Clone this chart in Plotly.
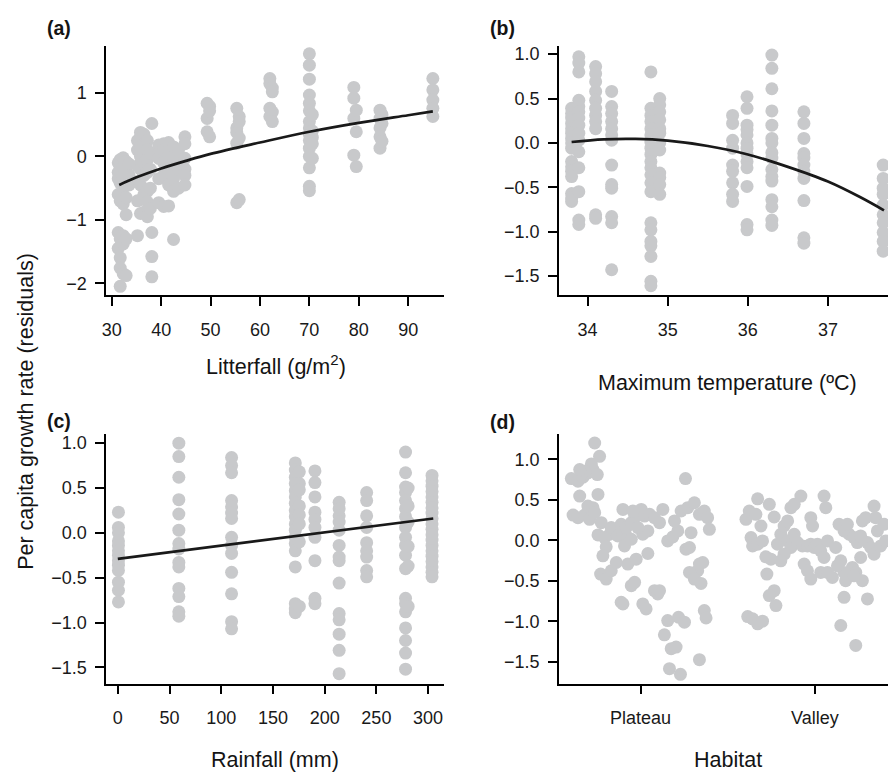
import plotly.graph_objects as go

# ---------------- data ----------------
# (a) Litterfall (g/m2) vs residual growth
litter_cols = [31.3, 31.7, 32.3, 32.9, 33.5, 35.2, 35.8, 36.5, 37.2, 37.8, 38.1,
               39.5, 40.5, 41.5, 42.5, 43.5, 44.8, 49.3, 49.8, 55.3, 55.8,
               62.0, 62.5, 70.0, 70.6, 79.0, 79.5, 84.3, 84.7, 95.0]
litter_vals = [
    [-0.1, -0.25, -0.35, -0.6, -1.2, -1.45],
    [-0.05, -0.13, -0.24, -0.42, -0.7, -1.3, -1.6, -1.76, -2.05],
    [-0.02, -0.18, -0.3, -0.5, -0.75, -1.25, -1.38, -1.85],
    [-0.08, -0.22, -0.65, -0.92, -1.3, -1.88],
    [-0.12, -0.3, -0.45],
    [0.25, 0.1, -0.15, -0.4, -0.7, -1.25],
    [0.38, 0.3, 0.15, 0.0, -0.2, -0.45, -0.9],
    [0.35, 0.2, 0.05, -0.1, -0.3, -0.6, -0.88],
    [0.25, 0.1, -0.05, -0.25, -0.55, -0.72, -0.95],
    [0.05, -0.2, -0.5, -0.82],
    [0.52, -1.2, -1.58, -1.9],
    [0.18, 0.05, -0.03, -0.35, -0.73],
    [0.2, 0.1, -0.1, -0.3, -0.79],
    [0.22, 0.0, -0.2, -0.45, -0.78],
    [0.15, -0.05, -0.35, -0.55, -1.31],
    [0.1, -0.2, -0.5],
    [0.31, 0.2, -0.03, -0.2, -0.3, -0.45],
    [0.84, 0.6, 0.39],
    [0.79, 0.72, 0.31],
    [0.76, 0.45, 0.38, 0.21, -0.73],
    [0.63, 0.55, 0.29, -0.68],
    [1.23, 1.15, 0.76, 0.63],
    [1.08, 1.02, 0.7, 0.55],
    [1.62, 1.44, 1.22, 0.97, 0.84, 0.72, 0.55, 0.45, 0.35, 0.25, 0.13, 0.0, -0.18, -0.47, -0.54],
    [0.66, 0.4, 0.3, 0.2, -0.03],
    [1.09, 0.92, 0.6, 0.02],
    [0.73, 0.39, -0.16],
    [0.73, 0.6, 0.45, 0.31, 0.13],
    [0.66, 0.52, 0.24],
    [1.23, 1.05, 0.89, 0.76, 0.63],
]
litter_fit_x = [31.5, 35, 40, 45, 50, 60, 70, 80, 90, 95]
litter_fit_y = [-0.45, -0.33, -0.19, -0.07, 0.04, 0.22, 0.39, 0.53, 0.65, 0.71]

# (b) Maximum temperature
temp_cols = [33.80, 33.89, 34.10, 34.30, 34.79, 34.90, 35.81, 35.99, 36.30, 36.70, 37.69]
temp_vals = [
    [0.39, 0.33, 0.28, 0.22, 0.16, 0.11, 0.05, 0.0, -0.06, -0.21, -0.27, -0.32, -0.38, -0.57, -0.62, -0.66],
    [0.97, 0.9, 0.8, 0.48, 0.41, 0.35, 0.28, 0.2, 0.11, 0.03, -0.1, -0.28, -0.55, -0.87, -0.92],
    [0.86, 0.78, 0.69, 0.58, 0.48, 0.39, 0.31, 0.24, 0.16, -0.81, -0.85],
    [0.58, 0.41, 0.33, 0.24, 0.16, 0.09, 0.03, -0.25, -0.47, -0.51, -0.83, -0.9, -1.43],
    [0.8, 0.39, 0.31, 0.24, 0.16, 0.09, 0.01, -0.06, -0.13, -0.21, -0.28, -0.36, -0.45, -0.55,
     -0.9, -0.98, -1.11, -1.16, -1.28, -1.56, -1.61],
    [0.5, 0.43, 0.35, 0.26, 0.16, 0.11, 0.0, -0.08, -0.34, -0.39, -0.47, -0.58],
    [0.31, 0.22, 0.03, -0.06, -0.25, -0.32, -0.45, -0.58, -0.66],
    [0.52, 0.39, 0.2, 0.15, 0.09, 0.0, -0.06, -0.13, -0.21, -0.28, -0.49, -0.92, -0.98],
    [0.99, 0.84, 0.61, 0.36, 0.2, 0.05, 0.0, -0.11, -0.17, -0.3, -0.38, -0.43, -0.64, -0.72, -0.87, -0.93],
    [0.35, 0.22, 0.05, -0.12, -0.17, -0.25, -0.32, -0.4, -0.65, -1.07, -1.13],
    [-0.25, -0.4, -0.51, -0.58, -0.7, -0.81, -0.9, -1.01, -1.11, -1.22],
]
temp_fit_x = [33.8, 34.2, 34.6, 35.0, 35.5, 36.0, 36.5, 37.0, 37.4, 37.7]
temp_fit_y = [0.01, 0.04, 0.045, 0.025, -0.035, -0.13, -0.27, -0.435, -0.61, -0.76]

# (c) Rainfall (mm)
rain_cols = [0.6, 59, 110, 171.6, 175.5, 190.6, 214, 240.6, 278.2, 280.7, 303.8]
rain_vals = [
    [0.23, 0.06, 0.0, -0.09, -0.14, -0.2, -0.25, -0.31, -0.36, -0.42, -0.55, -0.64, -0.77],
    [1.0, 0.85, 0.62, 0.37, 0.21, 0.03, -0.12, -0.18, -0.33, -0.38, -0.62, -0.71, -0.88, -0.93],
    [0.84, 0.75, 0.67, 0.36, 0.29, 0.22, 0.16, -0.05, -0.14, -0.23, -0.44, -0.68, -0.99, -1.07],
    [0.78, 0.7, 0.62, 0.55, 0.47, 0.4, 0.33, 0.25, 0.18, 0.1, 0.03, -0.05, -0.12, -0.2, -0.38,
     -0.79, -0.85, -0.89],
    [0.68, 0.55, 0.48, 0.3, 0.2, 0.1, -0.1, -0.82],
    [0.69, 0.56, 0.4, 0.23, 0.15, 0.06, -0.05, -0.31, -0.73, -0.79],
    [0.34, 0.27, 0.19, 0.12, 0.03, -0.14, -0.27, -0.31, -0.56, -0.9, -0.97, -1.13, -1.31, -1.57],
    [0.45, 0.36, 0.19, 0.06, -0.11, -0.2, -0.27, -0.42, -0.49],
    [0.9, 0.67, 0.51, 0.45, 0.36, 0.27, 0.18, 0.06, -0.05, -0.14, -0.25, -0.4, -0.73, -0.79,
     -0.88, -1.06, -1.2, -1.34, -1.52],
    [0.5, 0.3, 0.12, -0.15, -0.37, -0.82],
    [0.64, 0.58, 0.52, 0.46, 0.4, 0.34, 0.28, 0.22, 0.16, 0.1, 0.04, -0.02, -0.08, -0.14, -0.2,
     -0.26, -0.32, -0.38, -0.44, -0.49],
]
rain_fit_x = [0, 305]
rain_fit_y = [-0.29, 0.16]

# (d) Habitat (jittered position: Plateau = 1, Valley = 2)
habitat_labels = ["Plateau", "Valley"]
plateau_x = [0.603, 0.641, 0.670, 0.698, 0.727, 0.737, 0.765, 0.718, 0.752, 0.679, 0.651,
             0.613, 0.641, 0.679, 0.708, 0.698, 0.727, 0.756, 0.651, 0.737, 0.775, 0.756,
             0.794, 0.823, 0.851, 0.803, 0.784, 0.832, 0.870, 0.899, 0.927, 0.908, 0.889,
             0.918, 0.947, 0.966, 0.994, 1.023, 1.004, 0.899, 0.956, 1.052, 1.080, 1.109,
             1.128, 1.042, 1.013, 0.985, 0.947, 0.927, 0.975, 1.042, 0.771, 0.803, 0.832,
             0.861, 0.889, 0.899, 0.947, 0.966, 1.013, 1.032, 1.080, 1.099, 1.109, 1.156,
             1.185, 1.214, 1.195, 1.233, 1.271, 1.309, 1.338, 1.366, 1.385, 1.395, 1.290,
             1.261, 1.281, 1.328, 1.338, 1.357, 1.281, 1.309, 1.347, 1.258, 1.137, 1.156,
             1.176, 1.204, 1.218, 1.252, 1.166, 1.229, 1.338, 1.366, 1.376]
plateau_y = [0.762, 0.730, 0.779, 0.832, 0.873, 1.201, 1.037, 0.943, 0.811, 0.852, 0.873,
             0.311, 0.279, 0.311, 0.258, 0.422, 0.402, 0.566, 0.545, 0.340, 0.217, 0.066,
             0.033, 0.074, 0.115, -0.082, -0.193, 0.156, 0.053, 0.074, 0.033, -0.070, 0.197,
             0.156, 0.217, 0.279, 0.320, 0.299, 0.381, 0.381, 0.361, 0.320, 0.279, 0.217,
             0.381, 0.115, 0.074, 0.156, 0.012, -0.295, -0.234, -0.164, -0.418, -0.480, -0.377,
             -0.275, -0.766, -0.787, -0.561, -0.520, -0.787, -0.848, -0.623, -0.664, -0.623, -0.008,
             0.041, 0.115, 0.238, 0.361, 0.402, 0.463, 0.320, 0.361, 0.279, 0.135, 0.094,
             -0.111, -0.090, -0.377, -0.295, -0.275, -0.398, -0.480, -0.533, 0.762, -1.168, -0.992,
             -1.340, -1.320, -0.951, -1.012, -1.586, -1.656, -1.475, -0.869, -0.959]
valley_x = [1.605, 1.624, 1.662, 1.672, 1.691, 1.634, 1.643, 1.672, 1.700, 1.739, 1.767,
            1.719, 1.748, 1.725, 1.767, 1.739, 1.777, 1.615, 1.643, 1.672, 1.700, 1.786,
            1.805, 1.824, 1.844, 1.863, 1.882, 1.920, 1.844, 1.863, 1.824, 1.805, 1.882,
            1.901, 1.929, 1.958, 1.977, 1.996, 2.015, 2.034, 2.053, 1.977, 1.987, 1.939,
            1.958, 1.977, 2.053, 2.063, 2.073, 2.034, 2.073, 2.101, 2.120, 2.139, 2.168,
            2.197, 2.187, 2.149, 2.168, 2.216, 2.235, 2.273, 2.225, 2.244, 2.263, 2.273,
            2.292, 2.302, 2.321, 2.340, 2.340, 2.349, 2.359, 2.378, 2.397, 2.406, 2.302,
            2.168, 2.149, 2.235, 2.130, 2.177, 2.225, 2.263]
valley_y = [0.258, 0.361, 0.320, 0.512, 0.176, 0.033, -0.070, -0.049, -0.008, 0.443, 0.287,
            -0.205, -0.234, -0.418, -0.623, -0.684, -0.807, -0.943, -0.971, -1.033, -1.000, -0.049,
            0.074, 0.176, 0.238, 0.402, 0.443, 0.545, -0.008, -0.090, -0.172, -0.254, 0.074,
            -0.029, -0.070, -0.070, -0.049, -0.090, -0.049, -0.131, -0.213, 0.279, 0.176, -0.295,
            -0.377, -0.480, 0.545, 0.402, -0.008, -0.398, -0.398, -0.459, -0.090, 0.197, 0.115,
            0.074, 0.197, -0.254, -0.398, -0.336, -0.398, -0.500, 0.033, -0.029, 0.053, 0.238,
            0.279, -0.029, -0.090, -0.172, 0.422, 0.279, 0.115, -0.070, 0.197, -0.008, -0.725,
            -0.705, -1.053, -1.299, -0.316, -0.500, -0.439, -0.213]


def flatten(cols, vals):
    xs, ys = [], []
    for c, v in zip(cols, vals):
        xs += [c] * len(v)
        ys += v
    return xs, ys


# ---------------- styling ----------------
W, H = 888, 773
FONT = "Liberation Sans, Arial, Helvetica, sans-serif"
PT_COLOR = "rgb(200,201,203)"
PT_SIZE = 13
LINE_COLOR = "rgb(25,25,25)"

fig = go.Figure()


def add_points(xs, ys, ax):
    fig.add_trace(go.Scatter(x=xs, y=ys, mode="markers", xaxis="x" + ax, yaxis="y" + ax,
                             marker=dict(color=PT_COLOR, size=PT_SIZE, line=dict(width=0)),
                             showlegend=False, hoverinfo="skip"))


def add_fit(xs, ys, ax):
    fig.add_trace(go.Scatter(x=xs, y=ys, mode="lines", xaxis="x" + ax, yaxis="y" + ax,
                             line=dict(color=LINE_COLOR, width=2.7, shape="spline", smoothing=1.0),
                             showlegend=False, hoverinfo="skip"))


ax_, ay_ = flatten(litter_cols, litter_vals)
add_points(ax_, ay_, "")
add_fit(litter_fit_x, litter_fit_y, "")
bx_, by_ = flatten(temp_cols, temp_vals)
add_points(bx_, by_, "2")
add_fit(temp_fit_x, temp_fit_y, "2")
cx_, cy_ = flatten(rain_cols, rain_vals)
add_points(cx_, cy_, "3")
add_fit(rain_fit_x, rain_fit_y, "3")
add_points(plateau_x + valley_x, plateau_y + valley_y, "4")

TICK_FONT = dict(family=FONT, size=18, color="rgb(25,25,25)")
common = dict(showline=True, linecolor="black", linewidth=1.5, ticks="outside",
              ticklen=9, tickwidth=1.5, tickcolor="black", showgrid=False, zeroline=False,
              tickfont=TICK_FONT, fixedrange=True)
xcommon = dict(common, ticklabelstandoff=8)
ycommon = dict(common, ticklabelstandoff=5)

xdom_l = [102.7 / W, 441.7 / W]
xdom_r = [557.3 / W, 1.0]
ydom_t = [1 - 294 / H, 1 - 44.3 / H]
ydom_b = [1 - 683.3 / H, 1 - 433.3 / H]

fig.update_layout(
    width=W, height=H, margin=dict(l=0, r=0, t=0, b=0),
    paper_bgcolor="white", plot_bgcolor="white", showlegend=False,
    font=dict(family=FONT, color="rgb(25,25,25)"),
    xaxis=dict(xcommon, domain=xdom_l, range=[28.87, 97.2], tickvals=[30, 40, 50, 60, 70, 80, 90], anchor="y"),
    yaxis=dict(ycommon, domain=ydom_t, range=[-2.19, 1.74], tickvals=[-2, -1, 0, 1], anchor="x"),
    xaxis2=dict(xcommon, domain=xdom_r, range=[33.64, 37.75], tickvals=[34, 35, 36, 37], anchor="y2"),
    yaxis2=dict(ycommon, domain=ydom_t, range=[-1.717, 1.09], tickvals=[-1.5, -1, -0.5, 0, 0.5, 1],
                tickformat=".1f", anchor="x2"),
    xaxis3=dict(xcommon, domain=xdom_l, range=[-11.2, 315.1], tickvals=[0, 50, 100, 150, 200, 250, 300], anchor="y3"),
    yaxis3=dict(ycommon, domain=ydom_b, range=[-1.68, 1.1], tickvals=[-1.5, -1, -0.5, 0, 0.5, 1],
                tickformat=".1f", anchor="x3"),
    xaxis4=dict(xcommon, domain=xdom_r, range=[0.531, 2.42], tickvals=[1, 2], ticktext=habitat_labels,
                anchor="y4"),
    yaxis4=dict(ycommon, domain=ydom_b, range=[-1.77, 1.31], tickvals=[-1.5, -1, -0.5, 0, 0.5, 1],
                tickformat=".1f", anchor="x4"),
)

TITLE_SIZE = 21.5
ann = []


def text(x, y, s, size, bold=False, angle=0):
    ann.append(dict(x=x / W, y=1 - y / H, xref="paper", yref="paper", text=("<b>%s</b>" % s) if bold else s,
                    showarrow=False, xanchor="center", yanchor="middle", textangle=angle,
                    font=dict(family=FONT, size=size, color="rgb(20,20,20)")))


text(55, 26, "(a)", 19.5, bold=True)
text(501, 26, "(b)", 19.5, bold=True)
text(55, 420, "(c)", 19.5, bold=True)
text(501, 421, "(d)", 19.5, bold=True)
text(273, 364, "Litterfall (g/m<sup>2</sup>)", TITLE_SIZE)
text(726.5, 382, "Maximum temperature (ºC)", TITLE_SIZE)
text(272, 760, "Rainfall (mm)", TITLE_SIZE)
text(727, 760, "Habitat", TITLE_SIZE)
text(22, 410, "Per capita growth rate (residuals)", TITLE_SIZE, angle=-90)
fig.update_layout(annotations=ann)

fig.write_html("out.html")
